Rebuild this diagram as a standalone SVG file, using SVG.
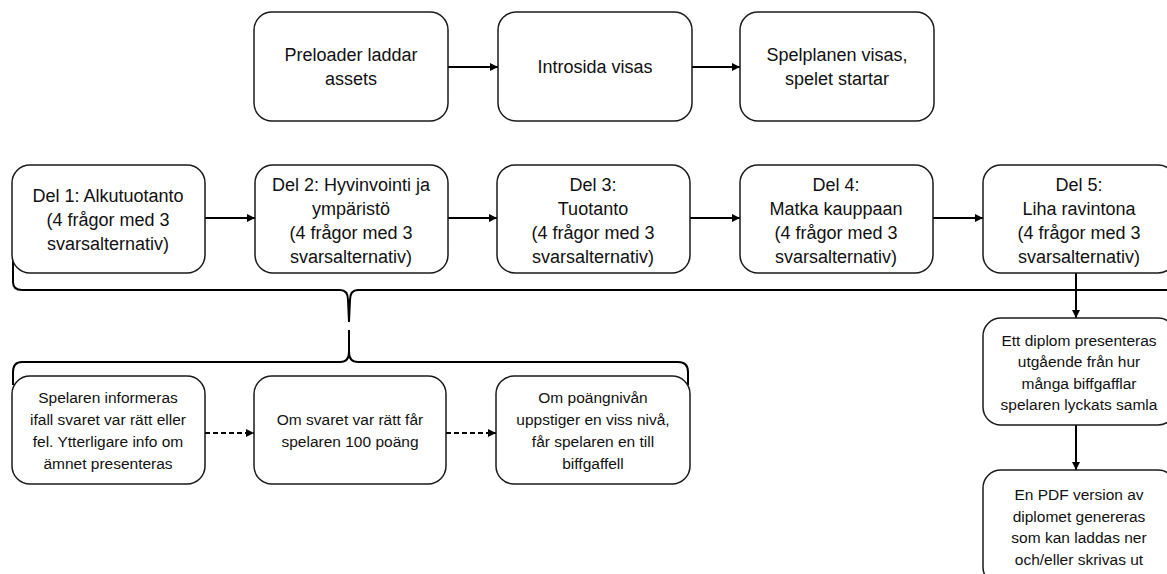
<svg xmlns="http://www.w3.org/2000/svg" width="1167" height="574" viewBox="0 0 1167 574">
<style>
.box{fill:#fff;stroke:#1a1a1a;stroke-width:1.5}
.t{font-family:"Liberation Sans",Arial,sans-serif;font-size:18px;fill:#111;text-anchor:middle}
.s{font-family:"Liberation Sans",Arial,sans-serif;font-size:15.5px;fill:#111;text-anchor:middle}
.c{fill:none;stroke:#000;stroke-width:2}
.d{fill:none;stroke:#000;stroke-width:2;stroke-dasharray:5 3}
.b{fill:none;stroke:#000;stroke-width:2}
</style>
<defs>
<marker id="ah" viewBox="0 0 10 10" refX="10" refY="5" markerWidth="4" markerHeight="4" orient="auto" markerUnits="strokeWidth">
<path d="M0,0 L10,5 L0,10 z" fill="#000"/>
</marker>
</defs>
<rect width="1167" height="574" fill="#fff"/>
<g id="connectors">
<line class="c" x1="448" y1="67" x2="498" y2="67" marker-end="url(#ah)"/>
<line class="c" x1="692" y1="67" x2="740" y2="67" marker-end="url(#ah)"/>
<line class="c" x1="205" y1="218" x2="255" y2="218" marker-end="url(#ah)"/>
<line class="c" x1="448" y1="218" x2="497" y2="218" marker-end="url(#ah)"/>
<line class="c" x1="690" y1="218" x2="740" y2="218" marker-end="url(#ah)"/>
<line class="c" x1="933" y1="218" x2="983" y2="218" marker-end="url(#ah)"/>
<line class="c" x1="1076" y1="273" x2="1076" y2="318" marker-end="url(#ah)"/>
<line class="c" x1="1076" y1="425" x2="1076" y2="470" marker-end="url(#ah)"/>
<line class="d" x1="205" y1="433" x2="254" y2="433" marker-end="url(#ah)"/>
<line class="d" x1="446" y1="433" x2="496" y2="433" marker-end="url(#ah)"/>
<path class="b" d="M13,260 L13,282 Q13,290 22,290 L340,290 Q348,290 348,300 L349,322 M349,322 L350,300 Q350,290 358,290 L1167,290"/>
<path class="b" d="M349,330 L349,352 Q349,362 340,362 L22,362 Q13,362 13,372 L13,385 M349,352 Q349,362 358,362 L678,362 Q688,362 688,372 L688,385"/>
</g>
<g id="n1"><rect class="box" x="254" y="12" width="194" height="109" rx="18"/><text class="t" x="351" y="61">Preloader laddar</text><text class="t" x="351" y="85">assets</text></g>
<g id="n2"><rect class="box" x="498" y="12" width="194" height="109" rx="18"/><text class="t" x="595" y="73">Introsida visas</text></g>
<g id="n3"><rect class="box" x="740" y="12" width="194" height="109" rx="18"/><text class="t" x="837" y="61">Spelplanen visas,</text><text class="t" x="837" y="85">spelet startar</text></g>
<g id="d1"><rect class="box" x="12" y="165" width="193" height="108" rx="18"/><text class="t" x="108" y="202">Del 1: Alkutuotanto</text><text class="t" x="108" y="226">(4 frågor med 3</text><text class="t" x="108" y="250">svarsalternativ)</text></g>
<g id="d2"><rect class="box" x="255" y="165" width="193" height="108" rx="18"/><text class="t" x="351" y="191">Del 2: Hyvinvointi ja</text><text class="t" x="351" y="215">ympäristö</text><text class="t" x="351" y="239">(4 frågor med 3</text><text class="t" x="351" y="263">svarsalternativ)</text></g>
<g id="d3"><rect class="box" x="497" y="165" width="193" height="108" rx="18"/><text class="t" x="593" y="191">Del 3:</text><text class="t" x="593" y="215">Tuotanto</text><text class="t" x="593" y="239">(4 frågor med 3</text><text class="t" x="593" y="263">svarsalternativ)</text></g>
<g id="d4"><rect class="box" x="740" y="165" width="193" height="108" rx="18"/><text class="t" x="836" y="191">Del 4:</text><text class="t" x="836" y="215">Matka kauppaan</text><text class="t" x="836" y="239">(4 frågor med 3</text><text class="t" x="836" y="263">svarsalternativ)</text></g>
<g id="d5"><rect class="box" x="983" y="165" width="193" height="108" rx="18"/><text class="t" x="1079" y="191">Del 5:</text><text class="t" x="1079" y="215">Liha ravintona</text><text class="t" x="1079" y="239">(4 frågor med 3</text><text class="t" x="1079" y="263">svarsalternativ)</text></g>
<g id="b1"><rect class="box" x="12" y="376" width="193" height="108" rx="18"/><text class="s" x="108" y="403">Spelaren informeras</text><text class="s" x="108" y="425">ifall svaret var rätt eller</text><text class="s" x="108" y="447">fel. Ytterligare info om</text><text class="s" x="108" y="469">ämnet presenteras</text></g>
<g id="b2"><rect class="box" x="254" y="376" width="192" height="108" rx="18"/><text class="s" x="350" y="425">Om svaret var rätt får</text><text class="s" x="350" y="447">spelaren 100 poäng</text></g>
<g id="b3"><rect class="box" x="496" y="376" width="194" height="108" rx="18"/><text class="s" x="593" y="403">Om poängnivån</text><text class="s" x="593" y="425">uppstiger en viss nivå,</text><text class="s" x="593" y="447">får spelaren en till</text><text class="s" x="593" y="469">biffgaffell</text></g>
<g id="r1"><rect class="box" x="983" y="318" width="193" height="107" rx="18"/><text class="s" x="1079" y="346">Ett diplom presenteras</text><text class="s" x="1079" y="367">utgående från hur</text><text class="s" x="1079" y="389">många biffgafflar</text><text class="s" x="1079" y="410">spelaren lyckats samla</text></g>
<g id="r2"><rect class="box" x="983" y="470" width="193" height="115" rx="18"/><text class="s" x="1079" y="500">En PDF version av</text><text class="s" x="1079" y="522">diplomet genereras</text><text class="s" x="1079" y="543">som kan laddas ner</text><text class="s" x="1079" y="565">och/eller skrivas ut</text></g>
</svg>
